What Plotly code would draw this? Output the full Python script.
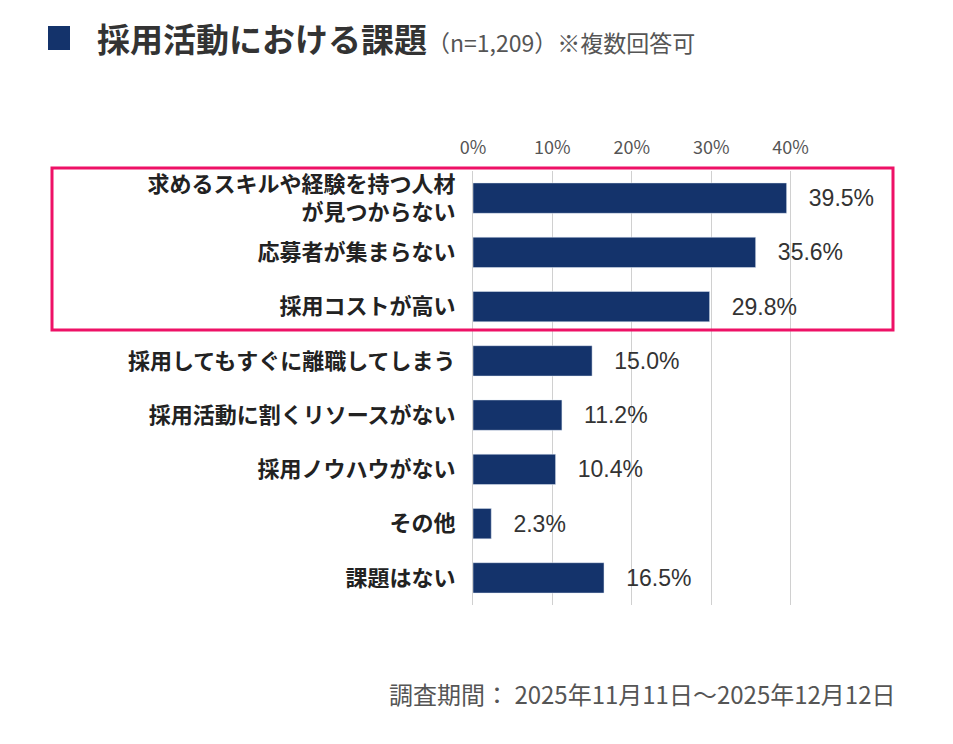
import plotly.graph_objects as go

categories = ["求めるスキルや経験を持つ人材<br>が見つからない", "応募者が集まらない", "採用コストが高い",
              "採用してもすぐに離職してしまう", "採用活動に割くリソースがない", "採用ノウハウがない",
              "その他", "課題はない"]
values = [39.5, 35.6, 29.8, 15.0, 11.2, 10.4, 2.3, 16.5]
tick_vals = [0, 10, 20, 30, 40]
tick_text = ["0%", "10%", "20%", "30%", "40%"]

W, H = 953, 744
OFF = 8  # page offset seen in render
L, R, T, B = 473 - OFF, 870 - OFF, 171 - OFF, 605 - OFF
def px(x): return (x - OFF - L) / (R - L)
def py(y): return 1 - (y - OFF - T) / (B - T)

fig = go.Figure(go.Bar(
    x=values, y=["<b>" + c + "</b>" for c in categories], orientation="h",
    marker_color="#14336b", width=0.56,
    text=[f"   {v:.1f}%" for v in values], textposition="outside",
    textfont=dict(size=23, color="#333333", family="Liberation Sans"), cliponaxis=False,
))
font = "Noto Sans CJK JP"
fig.update_layout(
    width=W, height=H, plot_bgcolor="white", paper_bgcolor="white",
    margin=dict(l=L, r=W - R, t=T, b=H - B),
    font=dict(family=font, color="#222222"),
    showlegend=False,
    xaxis=dict(range=[0, 50], side="top", tickvals=tick_vals, ticktext=tick_text,
               showgrid=True, gridcolor="#d0d0d0", zeroline=False, ticklabelstandoff=12,
               tickfont=dict(size=18, color="#555555")),
    yaxis=dict(autorange="reversed", tickfont=dict(size=22, color="#222222"),
               ticklabelstandoff=12, showline=True, linecolor="#d0d0d0"),
    shapes=[
        dict(type="rect", xref="paper", yref="paper", x0=px(52), x1=px(893), y0=py(330), y1=py(168),
             line=dict(color="#ee1166", width=3)),
        dict(type="rect", xref="paper", yref="paper", x0=px(48), x1=px(70), y0=py(50), y1=py(26),
             fillcolor="#14336b", line_width=0),
    ],
    annotations=[
        dict(xref="paper", yref="paper", x=px(95), y=py(38), xanchor="left", yanchor="middle",
             showarrow=False, text="<b>採用活動における課題</b><span style='font-size:23px;color:#555'>（n=1,209）※複数回答可</span>",
             font=dict(size=33, color="#333333")),
        dict(xref="paper", yref="paper", x=px(898), y=py(693), xanchor="right", yanchor="middle",
             showarrow=False, text="調査期間： 2025年11月11日～2025年12月12日",
             font=dict(size=24, color="#555555")),
    ],
)
fig.write_html("out.html")
